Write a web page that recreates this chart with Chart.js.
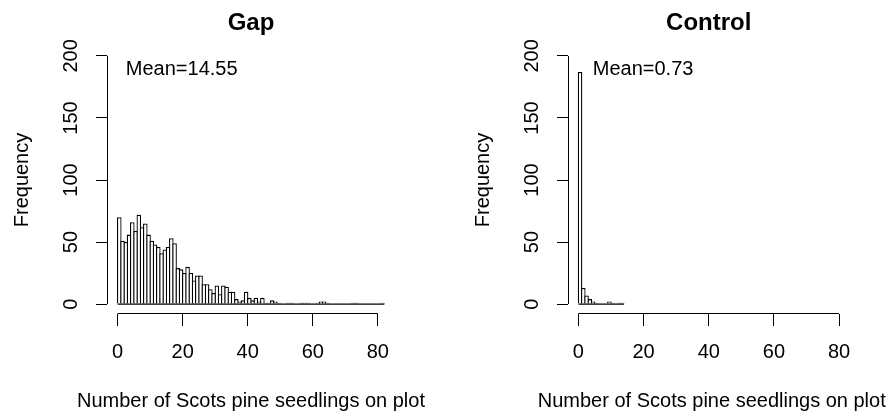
<!DOCTYPE html>
<html>
<head>
<meta charset="utf-8">
<script src="https://cdn.jsdelivr.net/npm/chart.js@4.4.1/dist/chart.umd.min.js"></script>
<style>
  body { margin: 0; background: #fff; }
  #wrap { position: relative; width: 890px; height: 414px; }
  canvas { position: absolute; top: 0; }
</style>
</head>
<body>
<div id="wrap">
  <canvas id="gap" width="445" height="414" style="left:0"></canvas>
  <canvas id="control" width="445" height="414" style="left:445px"></canvas>
</div>
<script>
// seedling counts per plot, one bin per seedling (bin i = [i, i+1))
const gapCounts = [70, 51, 50, 56, 66, 59, 72, 62, 65, 56,
  51, 48, 46, 41, 44, 46, 53, 49, 29, 28,
  25, 30, 25, 19, 23, 23, 16, 16, 12, 9,
  15, 8, 15, 14, 10, 10, 4, 2, 3, 10,
  5, 3, 5, 2, 5, 1, 1, 3, 2, 1,
  0, 0, 1, 1, 0, 0, 1, 1, 1, 0,
  0, 1, 2, 2, 1, 0, 0, 0, 0, 0,
  0, 0, 1, 1, 0, 0, 0, 0, 0, 0,
  0, 1];
const controlCounts = [187, 13, 7, 4, 2, 1, 0, 0, 0, 2, 1, 0, 1, 1];
const panelTitles = ["Gap", "Control"];
const meanLabels = ["Mean=14.55", "Mean=0.73"];
// where the mean text sits, in data units
const meanLabelAt = [{ x: 2.5, y: 189 }, { x: 4.4, y: 189 }];
const xTickValues = [0, 20, 40, 60, 80];
const yTickValues = [0, 50, 100, 150, 200];
const xLabel = "Number of Scots pine seedlings on plot";
const yLabel = "Frequency";

const FONT = "'Liberation Sans', Arial, sans-serif";

//R-like axes: lines only over the tick range, titles and text label
const rStyle = {
  id: "rStyle",
  afterDraw(chart, args, opts) {
    const { ctx, chartArea, scales } = chart;
    const x = scales.x, y = scales.y;
    const midX = (chartArea.left + chartArea.right) / 2;
    ctx.save();
    ctx.strokeStyle = "#000";
    ctx.lineWidth = 1;
    ctx.beginPath();
    const by = Math.round(chartArea.bottom) - 0.5;
    ctx.moveTo(x.getPixelForValue(xTickValues[0]), by);
    ctx.lineTo(x.getPixelForValue(xTickValues[xTickValues.length - 1]), by);
    const lx = Math.round(chartArea.left) + 0.5;
    ctx.moveTo(lx, y.getPixelForValue(yTickValues[0]));
    ctx.lineTo(lx, y.getPixelForValue(yTickValues[yTickValues.length - 1]));
    ctx.stroke();

    ctx.fillStyle = "#000";
    ctx.textBaseline = "middle";
    ctx.textAlign = "center";
    ctx.font = "bold 24px " + FONT;
    ctx.fillText(opts.title, midX, 23);

    //x label is wider than the plot, so it is not squeezed into the axis box
    ctx.font = "20px " + FONT;
    ctx.fillText(xLabel, midX + opts.xLabelShift, 401);

    ctx.textAlign = "left";
    ctx.fillText(opts.mean, x.getPixelForValue(opts.meanAt.x), y.getPixelForValue(opts.meanAt.y));
    ctx.restore();
  },
};

function makeHist(canvasId, counts, idx, xMax, axisWidth, titlePad, rightPad, xLabelShift) {
  const lo = 0, hi = xMax;
  const bars = counts.map((c, i) => ({ x: i + 0.5, y: c }));
  return new Chart(document.getElementById(canvasId), {
    type: "bar",
    plugins: [rStyle],
    data: {
      datasets: [
        {
          type: "bar",
          data: bars,
          backgroundColor: "#ffffff",
          borderColor: "#000000",
          borderWidth: 1.3,
          barPercentage: 1.4,
          categoryPercentage: 1,
          inflateAmount: 0,
          order: 1,
        },
        {
          //zero-height bins still show as a baseline in R
          type: "line",
          data: [{ x: 0, y: 0 }, { x: counts.length, y: 0 }],
          borderColor: "#000000",
          borderWidth: 1.3,
          pointRadius: 0,
          order: 0,
        },
      ],
    },
    options: {
      responsive: false,
      animation: false,
      devicePixelRatio: 1,
      layout: { padding: { top: 46, left: 0, right: rightPad, bottom: 0 } },
      plugins: {
        legend: { display: false },
        tooltip: { enabled: false },
        rStyle: { title: panelTitles[idx], mean: meanLabels[idx], meanAt: meanLabelAt[idx], xLabelShift: xLabelShift },
      },
      scales: {
        x: {
          type: "linear",
          offset: false,
          min: lo - 0.04 * (hi - lo),
          max: hi + 0.04 * (hi - lo),
          afterBuildTicks: (s) => { s.ticks = xTickValues.map((v) => ({ value: v })); },
          afterFit: (s) => { s.height = 100; },
          border: { display: false },
          grid: { display: true, offset: false, drawOnChartArea: false, drawTicks: true, tickLength: 12, color: "#000" },
          ticks: { color: "#000", font: { family: FONT, size: 20 }, padding: 14, maxRotation: 0, autoSkip: false },
        },
        y: {
          type: "linear",
          min: -8,
          max: 208,
          afterBuildTicks: (s) => { s.ticks = yTickValues.map((v) => ({ value: v })); },
          afterFit: (s) => { s.width = axisWidth; },
          border: { display: false },
          grid: { display: true, drawOnChartArea: false, drawTicks: true, tickLength: 11, color: "#000" },
          ticks: { color: "#000", font: { family: FONT, size: 20 }, padding: 8, minRotation: 90, maxRotation: 90, crossAlign: "center", autoSkip: false },
          title: { display: true, text: yLabel, color: "#000", font: { family: FONT, size: 20 }, padding: { top: titlePad, bottom: 0 } },
        },
      },
    },
  });
}

makeHist("gap", gapCounts, 0, 82, 107, 10, 50, 0);
makeHist("control", controlCounts, 1, 80, 123, 26, 40.5, 3);
</script>
</body>
</html>
